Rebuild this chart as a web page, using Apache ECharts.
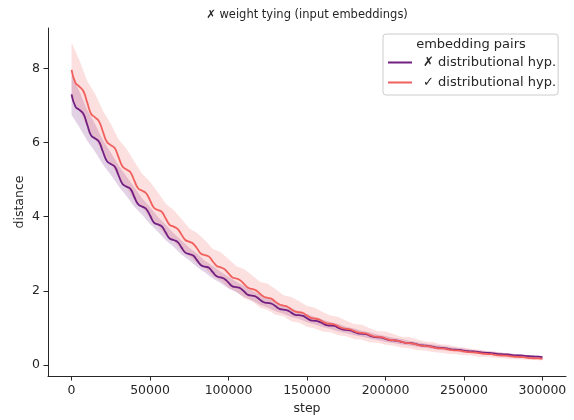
<!DOCTYPE html>
<html>
<head>
<meta charset="utf-8">
<script src="https://cdn.jsdelivr.net/npm/echarts@6/dist/echarts.min.js"></script>
<style>
  html, body { margin: 0; padding: 0; background: #ffffff; }
  #chart { width: 574px; height: 420px; }
</style>
</head>
<body>
<div id="chart"></div>
<script>
// Mean distance per logged step (every 2500 steps), one array per embedding-pair group
const purpleMean = [
  7.30, 6.97, 6.88, 6.78, 6.48, 6.19, 6.11, 6.02, 5.75, 5.50,
  5.42, 5.35, 5.11, 4.88, 4.81, 4.75, 4.53, 4.33, 4.27, 4.21,
  4.03, 3.84, 3.79, 3.74, 3.57, 3.41, 3.37, 3.32, 3.17, 3.03,
  2.99, 2.95, 2.82, 2.69, 2.65, 2.62, 2.50, 2.39, 2.36, 2.32,
  2.22, 2.12, 2.10, 2.07, 1.98, 1.89, 1.87, 1.84, 1.76, 1.69,
  1.67, 1.65, 1.58, 1.51, 1.49, 1.47, 1.41, 1.35, 1.34, 1.32,
  1.26, 1.20, 1.19, 1.17, 1.12, 1.07, 1.06, 1.05, 1.00, 0.955,
  0.943, 0.931, 0.890, 0.851, 0.839, 0.828, 0.790, 0.755, 0.745, 0.734,
  0.702, 0.670, 0.661, 0.652, 0.623, 0.595, 0.587, 0.579, 0.553, 0.528,
  0.521, 0.514, 0.491, 0.467, 0.461, 0.454, 0.434, 0.414, 0.409, 0.403,
  0.385, 0.368, 0.363, 0.358, 0.342, 0.327, 0.322, 0.318, 0.303, 0.290,
  0.286, 0.282, 0.269, 0.258, 0.254, 0.250, 0.239, 0.229, 0.225, 0.222,
  0.212
];
const redMean = [
  7.96, 7.61, 7.51, 7.39, 7.08, 6.77, 6.68, 6.57, 6.29, 6.02,
  5.93, 5.85, 5.60, 5.35, 5.27, 5.20, 4.97, 4.76, 4.70, 4.63,
  4.44, 4.24, 4.18, 4.13, 3.95, 3.78, 3.73, 3.67, 3.52, 3.37,
  3.32, 3.27, 3.14, 3.00, 2.96, 2.92, 2.79, 2.67, 2.63, 2.58,
  2.47, 2.36, 2.33, 2.28, 2.18, 2.08, 2.05, 2.01, 1.92, 1.84,
  1.81, 1.78, 1.70, 1.63, 1.60, 1.57, 1.50, 1.44, 1.42, 1.40,
  1.33, 1.27, 1.25, 1.23, 1.17, 1.12, 1.11, 1.09, 1.04, 0.989,
  0.973, 0.959, 0.916, 0.875, 0.861, 0.848, 0.808, 0.771, 0.759, 0.746,
  0.712, 0.678, 0.667, 0.656, 0.625, 0.595, 0.585, 0.575, 0.547, 0.520,
  0.511, 0.503, 0.479, 0.454, 0.447, 0.439, 0.418, 0.397, 0.391, 0.384,
  0.365, 0.347, 0.340, 0.334, 0.316, 0.300, 0.293, 0.288, 0.271, 0.257,
  0.251, 0.246, 0.231, 0.219, 0.213, 0.208, 0.195, 0.184, 0.178, 0.174,
  0.162
];

// Confidence bands, sampled every 5000 steps
const purpleUpper = [
  7.83, 7.38, 6.88, 6.50, 6.06, 5.73, 5.38, 5.08, 4.79, 4.49,
  4.26, 3.99, 3.78, 3.55, 3.36, 3.16, 3.00, 2.81, 2.67, 2.51,
  2.38, 2.24, 2.13, 2.00, 1.90, 1.79, 1.71, 1.60, 1.53, 1.44,
  1.37, 1.29, 1.22, 1.15, 1.10, 1.03, 0.98, 0.92, 0.88, 0.82,
  0.78, 0.73, 0.70, 0.65, 0.62, 0.58, 0.55, 0.52, 0.49, 0.46,
  0.44, 0.41, 0.39, 0.37, 0.35, 0.33, 0.31, 0.29, 0.27, 0.26,
  0.24
];
const purpleLower = [
  6.74, 6.41, 6.05, 5.75, 5.41, 5.13, 4.82, 4.56, 4.27, 4.05,
  3.80, 3.59, 3.36, 3.19, 2.98, 2.82, 2.64, 2.49, 2.33, 2.21,
  2.06, 1.96, 1.83, 1.74, 1.62, 1.55, 1.45, 1.38, 1.29, 1.24,
  1.15, 1.09, 1.02, 0.97, 0.90, 0.86, 0.80, 0.76, 0.71, 0.67,
  0.62, 0.59, 0.55, 0.52, 0.49, 0.46, 0.43, 0.40, 0.38, 0.36,
  0.33, 0.32, 0.30, 0.28, 0.26, 0.25, 0.23, 0.22, 0.21, 0.19,
  0.18
];
const redUpper = [
  8.70, 8.22, 7.66, 7.31, 6.86, 6.50, 6.08, 5.83, 5.49, 5.15,
  4.94, 4.66, 4.35, 4.18, 3.94, 3.68, 3.56, 3.36, 3.13, 3.04,
  2.86, 2.66, 2.58, 2.42, 2.24, 2.19, 2.04, 1.88, 1.83, 1.72,
  1.59, 1.54, 1.43, 1.33, 1.29, 1.19, 1.10, 1.08, 0.99, 0.91,
  0.90, 0.83, 0.76, 0.75, 0.69, 0.63, 0.62, 0.56, 0.54, 0.49,
  0.47, 0.43, 0.41, 0.37, 0.36, 0.32, 0.30, 0.27, 0.26, 0.23,
  0.21
];
const redLower = [
  7.20, 6.86, 6.43, 6.12, 5.70, 5.42, 5.06, 4.78, 4.45, 4.24,
  3.96, 3.75, 3.49, 3.33, 3.10, 2.94, 2.74, 2.60, 2.40, 2.27,
  2.08, 1.98, 1.80, 1.72, 1.55, 1.48, 1.35, 1.31, 1.18, 1.14,
  1.03, 0.98, 0.90, 0.88, 0.80, 0.77, 0.70, 0.68, 0.61, 0.60,
  0.54, 0.52, 0.47, 0.45, 0.40, 0.39, 0.35, 0.33, 0.30, 0.29,
  0.26, 0.25, 0.22, 0.21, 0.19, 0.18, 0.16, 0.15, 0.14, 0.13,
  0.12
];

const LINE_LOG_EVERY = 2500;
const BAND_LOG_EVERY = 5000;

const xTicks = [0, 50000, 100000, 150000, 200000, 250000, 300000];
const yTicks = [0, 2, 4, 6, 8];

const seriesNames = ['✗ distributional hyp.', '✓ distributional hyp.'];
const seriesColors = ['#721F81', '#F1605D'];
const bandFills = ['rgba(114, 31, 129, 0.2)', 'rgba(241, 96, 93, 0.2)'];

const chartTitle = '✗ weight tying (input embeddings)';
const legendTitle = 'embedding pairs';
const xName = 'step';
const yName = 'distance';

const FONT = 'DejaVu Sans';
const INK = '#262626';

const lineSteps = purpleMean.map((_, i) => i * LINE_LOG_EVERY);
const bandSteps = purpleUpper.map((_, i) => i * BAND_LOG_EVERY);

function toPairs(steps, values) {
  return values.map((v, i) => [steps[i], v]);
}

function bandSeries(name, upper, lower, fill) {
  return {
    type: 'custom',
    name: name,
    coordinateSystem: 'cartesian2d',
    silent: true,
    z: 1,
    data: [[bandSteps[0], upper[0]]],
    renderItem: function (params, api) {
      const pts = [];
      for (let i = 0; i < bandSteps.length; i++) {
        pts.push(api.coord([bandSteps[i], upper[i]]));
      }
      for (let i = bandSteps.length - 1; i >= 0; i--) {
        pts.push(api.coord([bandSteps[i], lower[i]]));
      }
      return { type: 'polygon', shape: { points: pts }, style: { fill: fill } };
    }
  };
}

function lineSeries(name, values, color) {
  return {
    type: 'line',
    name: name,
    data: toPairs(lineSteps, values),
    smooth: true,
    showSymbol: false,
    symbol: 'none',
    z: 3,
    lineStyle: { color: color, width: 1.8 },
    itemStyle: { color: color }
  };
}

const chart = echarts.init(document.getElementById('chart'), null, { renderer: 'canvas' });

chart.setOption({
  animation: false,
  backgroundColor: '#ffffff',
  textStyle: { fontFamily: FONT },
  title: {
    text: chartTitle,
    left: 307,
    top: 9,
    padding: 0,
    textAlign: 'center',
    textStyle: { fontFamily: FONT, fontSize: 11.5, fontWeight: 'normal', color: INK }
  },
  grid: { left: 48, right: 8, top: 28, bottom: 43 },
  xAxis: {
    type: 'value',
    min: -15000,
    max: 315000,
    name: xName,
    nameLocation: 'middle',
    nameGap: 26,
    nameMoveOverlap: false,
    nameTextStyle: { fontFamily: FONT, fontSize: 12.5, color: INK },
    splitLine: { show: false },
    axisLine: { show: true, onZero: false, lineStyle: { color: INK, width: 1 } },
    axisTick: { show: true, customValues: xTicks, length: 4.5, lineStyle: { color: INK, width: 1 } },
    axisLabel: {
      customValues: xTicks,
      margin: 8,
      fontFamily: FONT,
      fontSize: 12.5,
      color: INK,
      formatter: function (v) { return String(v); }
    }
  },
  yAxis: {
    type: 'value',
    min: -0.3,
    max: 9.09,
    name: yName,
    nameLocation: 'middle',
    nameGap: 22,
    nameMoveOverlap: false,
    nameTextStyle: { fontFamily: FONT, fontSize: 12.5, color: INK },
    splitLine: { show: false },
    axisLine: { show: true, onZero: false, lineStyle: { color: INK, width: 1 } },
    axisTick: { show: true, customValues: yTicks, length: 4.5, lineStyle: { color: INK, width: 1 } },
    axisLabel: {
      customValues: yTicks,
      margin: 8,
      fontFamily: FONT,
      fontSize: 12.5,
      color: INK,
      formatter: function (v) { return String(v); }
    }
  },
  legend: {
    orient: 'vertical',
    left: 383,
    top: 34,
    data: seriesNames,
    icon: 'rect',
    itemWidth: 24,
    itemHeight: 2,
    itemGap: 5,
    padding: [21, 2, 5, 5],
    backgroundColor: 'rgba(255,255,255,0.8)',
    borderColor: '#cccccc',
    borderWidth: 1,
    borderRadius: 3,
    selectedMode: false,
    textStyle: { fontFamily: FONT, fontSize: 13, color: INK, lineHeight: 15, padding: [0, 0, 0, 6] }
  },
  graphic: [{
    type: 'text',
    x: 471,
    y: 45,
    z: 100,
    style: {
      text: legendTitle,
      fontFamily: FONT,
      fontSize: 13,
      fill: INK,
      textAlign: 'center',
      textVerticalAlign: 'middle'
    }
  }],
  series: [
    bandSeries('band-0', purpleUpper, purpleLower, bandFills[0]),
    bandSeries('band-1', redUpper, redLower, bandFills[1]),
    lineSeries(seriesNames[0], purpleMean, seriesColors[0]),
    lineSeries(seriesNames[1], redMean, seriesColors[1])
  ]
});
</script>
</body>
</html>
